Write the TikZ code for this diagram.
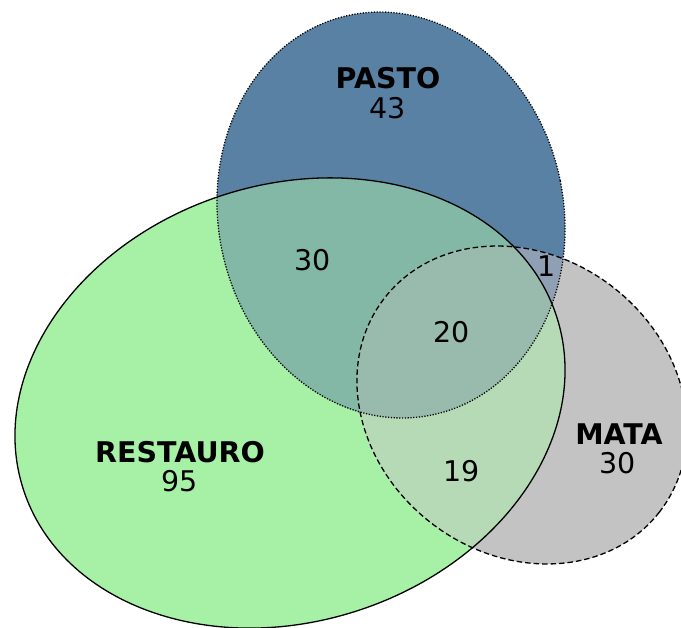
\documentclass[tikz,border=0pt]{standalone}
\usepackage{fontspec}
\setmainfont{DejaVu Sans}
\begin{document}
\definecolor{cG}{RGB}{166,241,166}
\definecolor{cB}{RGB}{89,129,164}
\definecolor{cM}{RGB}{195,195,195}
\definecolor{cGB}{RGB}{130,184,165}
\definecolor{cGM}{RGB}{181,218,181}
\definecolor{cBM}{RGB}{143,159,180}
\definecolor{cGBM}{RGB}{152,187,174}
\begin{tikzpicture}[x=1pt,y=-1pt,
  restauro/.style={shift={(290,403)},rotate=18},
  pasto/.style={shift={(391,215)},rotate=11.4},
  mata/.style={shift={(522,405)},rotate=-38},
  outline/.style={line width=1.3pt,black},
  setname/.style={font=\fontsize{28.5}{34}\selectfont\bfseries,inner sep=0pt},
  count/.style={font=\fontsize{28.5}{34}\selectfont,inner sep=0pt}]
\useasboundingbox (0,0) rectangle (681,628);
\clip (0,0) rectangle (681,628);
% single sets
\fill[cG,restauro] (0,0) ellipse [x radius=280.3, y radius=218.4];
\fill[cB,pasto] (0,0) ellipse [x radius=172.7, y radius=204.1];
\fill[cM,mata] (0,0) ellipse [x radius=174.2, y radius=148.9];
% PASTO and MATA overlap
\begin{scope}
  \clip[pasto] (0,0) ellipse [x radius=172.7, y radius=204.1];
  \fill[cBM,mata] (0,0) ellipse [x radius=174.2, y radius=148.9];
\end{scope}
% overlaps inside RESTAURO
\begin{scope}
  \clip[restauro] (0,0) ellipse [x radius=280.3, y radius=218.4];
  \fill[cGB,pasto] (0,0) ellipse [x radius=172.7, y radius=204.1];
  \fill[cGM,mata] (0,0) ellipse [x radius=174.2, y radius=148.9];
  \clip[pasto] (0,0) ellipse [x radius=172.7, y radius=204.1];
  \fill[cGBM,mata] (0,0) ellipse [x radius=174.2, y radius=148.9];
\end{scope}
% outlines
\draw[outline,restauro] (0,0) ellipse [x radius=280.3, y radius=218.4];
\draw[outline,pasto,dash pattern=on 1.2pt off 1.6pt] (0,0) ellipse [x radius=172.7, y radius=204.1];
\draw[outline,mata,dash pattern=on 5.5pt off 3pt] (0,0) ellipse [x radius=174.2, y radius=148.9];
% labels
\node[setname] (pastoName) at (388,78) {PASTO};
\node[count] (pastoN) at (388,108) {43};
\node[setname] (restName) at (180,452) {RESTAURO};
\node[count] (restN) at (180,481) {95};
\node[setname] (mataName) at (619,434) {MATA};
\node[count] (mataN) at (618,463) {30};
\node[count] (nGB) at (313,260) {30};
\node[count] (nGBM) at (452,332) {20};
\node[count] (nGM) at (462,471) {19};
\node[count] (nBM) at (547,266) {1};
\end{tikzpicture}
\end{document}
